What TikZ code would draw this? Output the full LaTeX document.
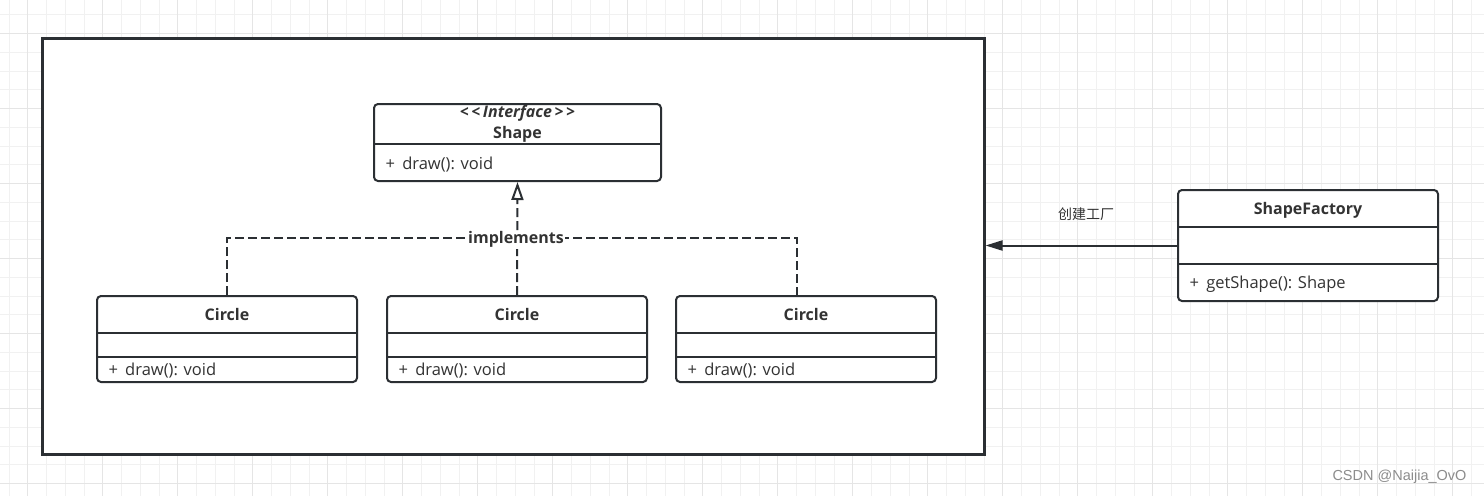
\documentclass[tikz,border=0pt]{standalone}
\usepackage{fontspec}
\setmainfont{Open Sans}
\newfontfamily\cjkfont{Noto Sans CJK SC}
\newfontfamily\markfont{Liberation Sans}
\usetikzlibrary{arrows.meta,positioning}
\definecolor{linecol}{HTML}{2B2F33}
\definecolor{textcol}{HTML}{333333}
\definecolor{minorgrid}{HTML}{F1F1F1}
\definecolor{majorgrid}{HTML}{E5E5E5}

\begin{document}
\begin{tikzpicture}[x=1pt,y=-1pt,
    umlbox/.style={draw=linecol, line width=2pt, fill=white, rounded corners=4pt, anchor=north west, inner sep=0pt},
    sep/.style={draw=linecol, line width=2pt},
    title/.style={font=\fontsize{16}{19}\selectfont\bfseries, text=textcol},
    method/.style={font=\fontsize{16.5}{19}\selectfont, text=textcol, anchor=west},
    impl/.style={draw=linecol, line width=2pt, dash pattern=on 9pt off 4pt}]
                \useasboundingbox (0,0) rectangle (1484,496);
                \fill[white] (0,0) rectangle (1484,496);
                % background grid
                \foreach \i in {0,...,79}
                    \draw[minorgrid, line width=1pt] ({9+18.75*\i},0) -- ({9+18.75*\i},496);
                \foreach \i in {0,...,26}
                    \draw[minorgrid, line width=1pt] (0,{14.75+18.75*\i}) -- (1484,{14.75+18.75*\i});
                \foreach \i in {0,...,19}
                    \draw[majorgrid, line width=1pt] ({27.75+75*\i},0) -- ({27.75+75*\i},496);
                \foreach \i in {0,...,6}
                    \draw[majorgrid, line width=1pt] (0,{33.5+75*\i}) -- (1484,{33.5+75*\i});

                \node[draw=linecol, line width=2.5pt, fill=white, anchor=north west, inner sep=0pt,
                      minimum width=942, minimum height=416] (frame) at (41,37) {};

                % interface
                \node[umlbox, minimum width=287, minimum height=77] (shape) at (373,103) {};
                \node[title, font=\fontsize{16}{19}\selectfont\bfseries\itshape] (shapestereo) at ([yshift=-10.5]shape.north) {<\,<\,Interface\,>\,>};
                \node[title] (shapename) at ([yshift=-31.5]shape.north) {Shape};
                \draw[sep] ([yshift=-41]shape.north west) -- ([yshift=-41]shape.north east);
                \node[method] (shapedraw) at ([xshift=9,yshift=-61.5]shape.north west) {+\hspace{3pt} draw(): void};

                % implementations
                \foreach \n/\x in {circA/96, circB/386, circC/675} {
                    \node[umlbox, minimum width=260, minimum height=86] (\n) at (\x,295) {};
                    \node[title] at ([yshift=-19]\n.north) {Circle};
                    \draw[sep] ([yshift=-38]\n.north west) -- ([yshift=-38]\n.north east);
                    \draw[sep] ([yshift=-62]\n.north west) -- ([yshift=-62]\n.north east);
                    \node[method] at ([xshift=9,yshift=-75.5]\n.north west) {+\hspace{3pt} draw(): void};
                }

                \coordinate (bend) at (797,238);
                \draw[impl] (circA.north) |- (bend) -- (bend |- circC.north);
                \draw[impl, -{Triangle[open, length=18pt, width=12pt]}] (circB.north) -- (shape.south);
                \node[title, fill=white, inner sep=1pt] (implements) at (516,239.5) {implements};

                % factory
                \node[umlbox, minimum width=260, minimum height=111] (factory) at (1177,189) {};
                \node[title] (factoryname) at ([yshift=-21]factory.north) {ShapeFactory};
                \draw[sep] ([yshift=-37.5]factory.north west) -- ([yshift=-37.5]factory.north east);
                \draw[sep] ([yshift=-75]factory.north west) -- ([yshift=-75]factory.north east);
                \node[method] (factoryget) at ([xshift=9,yshift=-95.5]factory.north west) {+\hspace{3pt} getShape(): Shape};

                \draw[draw=linecol, line width=2pt, -{Triangle[length=17pt, width=10pt]}] (factory.west) -- (factory.west -| frame.east);
                \node[font=\cjkfont\fontsize{14}{17}\selectfont, text=textcol] (create) at (1086,214) {创建工厂};

                \node[anchor=east, text=black!45, font=\markfont\fontsize{14.5}{17}\selectfont] (mark) at (1470,477) {CSDN @Naijia\_OvO};
            \end{tikzpicture}
\end{document}
